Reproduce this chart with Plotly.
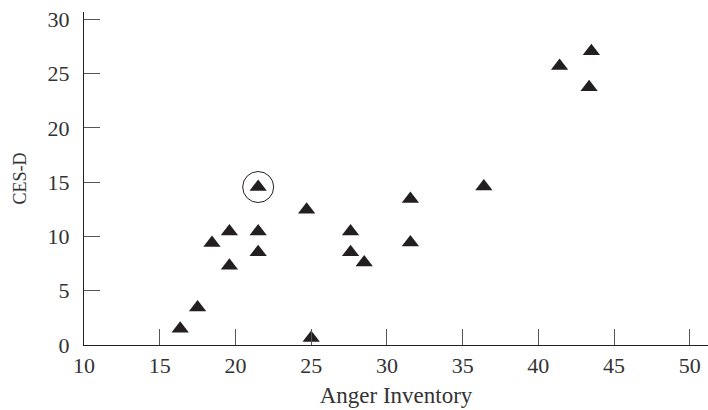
import plotly.graph_objects as go

# Anger Inventory scores (x) and CES-D depression scores (y)
anger = [16.35, 17.5, 18.45, 19.6, 19.6, 21.5, 21.5, 21.5, 24.7, 25.0,
         27.6, 27.6, 28.5, 31.55, 31.55, 36.4, 41.4, 43.35, 43.5]
cesd = [1.5, 3.45, 9.4, 10.45, 7.3, 14.55, 10.45, 8.55, 12.45, 0.65,
        10.45, 8.55, 7.6, 13.45, 9.45, 14.6, 25.7, 23.75, 27.05]

# participant singled out with a ring
highlight = 5

x_ticks = [10, 15, 20, 25, 30, 35, 40, 45, 50]
y_ticks = [0, 5, 10, 15, 20, 25, 30]

ink = "#231f20"
text_color = "#333333"
font_family = "Liberation Serif, Times New Roman, serif"

fig = go.Figure()
fig.add_trace(go.Scatter(
    x=anger, y=cesd, mode="markers",
    marker=dict(symbol="triangle-up", size=15, color=ink, line=dict(width=0)),
    hoverinfo="x+y", showlegend=False,
))
fig.add_trace(go.Scatter(
    x=[anger[highlight]], y=[cesd[highlight]], mode="markers",
    marker=dict(symbol="circle-open", size=31, color=ink, line=dict(width=1, color=ink)),
    hoverinfo="skip", showlegend=False,
))

axis_common = dict(
    showgrid=False, zeroline=False, showline=True, linecolor=ink, linewidth=1,
    ticks="inside", ticklen=16, tickwidth=1, tickcolor="#555555",
    tickfont=dict(family=font_family, size=22, color=text_color),
    mirror=False,
)

fig.update_layout(
    width=708, height=410,
    margin=dict(l=84, r=0, t=12, b=65),
    paper_bgcolor="white", plot_bgcolor="white",
    font=dict(family=font_family, color=text_color),
    xaxis=dict(
        range=[10, 51.2], tickvals=x_ticks, ticktext=[str(v) for v in x_ticks],
        ticklabelstandoff=1,
        title=dict(text="Anger Inventory",
                   font=dict(family=font_family, size=23, color=text_color),
                   standoff=9),
        **axis_common,
    ),
    yaxis=dict(
        range=[0, 30.67], tickvals=y_ticks, ticktext=[str(v) for v in y_ticks],
        ticklabelstandoff=9,
        title=dict(text="CES-D",
                   font=dict(family=font_family, size=18, color=text_color),
                   standoff=16),
        **axis_common,
    ),
)

fig.write_html("out.html")
